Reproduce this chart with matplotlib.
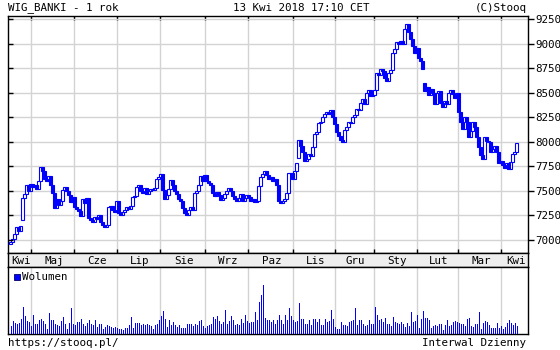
import numpy as np
import matplotlib
matplotlib.use("Agg")
import matplotlib.pyplot as plt
from matplotlib.patches import Rectangle

# daily closes, WIG_BANKI, Apr 2017 - Apr 2018
closes = [
    6975, 7010, 7060, 7130, 7090, 7140, 7430, 7470, 7560, 7500,
    7570, 7540, 7560, 7520, 7600, 7740, 7700, 7620, 7600, 7650,
    7560, 7480, 7330, 7420, 7360, 7400, 7510, 7540, 7500, 7460,
    7390, 7440, 7340, 7320, 7300, 7240, 7420, 7380, 7430, 7220,
    7200, 7180, 7230, 7210, 7250, 7180, 7150, 7130, 7150, 7340,
    7350, 7310, 7290, 7400, 7280, 7260, 7290, 7310, 7340, 7320,
    7350, 7440, 7450, 7540, 7560, 7500, 7480, 7530, 7470, 7500,
    7520, 7510, 7530, 7620, 7640, 7670, 7510, 7420, 7460, 7520,
    7610, 7560, 7500, 7470, 7420, 7400, 7330, 7280, 7260, 7310,
    7340, 7310, 7480, 7500, 7560, 7650, 7600, 7660, 7600, 7580,
    7560, 7480, 7450, 7490, 7460, 7410, 7430, 7470, 7500, 7530,
    7500, 7450, 7420, 7400, 7430, 7470, 7400, 7430, 7460, 7440,
    7400, 7420, 7390, 7400, 7550, 7640, 7670, 7700, 7660, 7620,
    7640, 7600, 7620, 7560, 7400, 7380, 7400, 7420, 7480, 7680,
    7680, 7620, 7700, 7780, 8020, 7960, 7900, 7800, 7830, 7880,
    7860, 7950, 8080, 8100, 8190, 8200, 8250, 8280, 8300, 8280,
    8320, 8250, 8180, 8100, 8060, 8020, 8000, 8120, 8150, 8200,
    8190, 8250, 8270, 8330, 8320, 8400, 8440, 8390, 8500, 8530,
    8470, 8480, 8530, 8700, 8680, 8740, 8720, 8650, 8620, 8700,
    8730, 8900, 8950, 9020, 9000, 9030, 9000, 9150, 9200, 9120,
    9050, 8980, 8900, 8960, 8850, 8820, 8740, 8520, 8560, 8480,
    8540, 8500, 8380, 8500, 8520, 8400, 8350, 8420, 8380, 8500,
    8530, 8490, 8450, 8500, 8300, 8200, 8130, 8250, 8200, 8050,
    8110, 8200, 8150, 8050, 7950, 7870, 7830, 8050, 8010, 8000,
    7900, 7930, 7960, 7900, 7780, 7800, 7760, 7730, 7780, 7720,
    7790, 7880, 7900, 7990,
]
first_open = 6960
# openings that gapped away from the previous close
gap_opens = {6: 7200, 139: 7480, 144: 7840, 207: 8600}

# daily volume (relative units, no scale on the chart)
volume = [
    7.7, 12.7, 11.0, 10.3, 11.0, 15.3, 27.0, 17.7, 12.7, 11.7,
    7.7, 18.7, 9.7, 9.7, 14.3, 15.3, 12.7, 9.7, 5.0, 21.0,
    13.7, 13.7, 10.3, 9.0, 8.3, 13.0, 17.0, 9.7, 5.0, 11.0,
    25.7, 10.3, 8.7, 11.7, 11.7, 15.3, 9.7, 8.3, 11.0, 13.7,
    10.3, 8.7, 13.7, 7.0, 10.3, 10.3, 5.3, 7.0, 8.7, 7.7,
    7.0, 6.3, 7.0, 6.3, 5.0, 5.0, 3.7, 5.7, 5.7, 8.7,
    17.0, 6.3, 11.0, 11.0, 11.0, 8.7, 9.7, 9.0, 9.7, 8.7,
    7.7, 5.3, 8.7, 10.3, 13.7, 18.3, 22.7, 15.3, 7.0, 14.3,
    8.7, 12.0, 8.7, 7.0, 8.7, 6.3, 6.3, 6.3, 9.7, 10.3,
    9.7, 7.7, 9.7, 8.7, 13.0, 14.3, 7.7, 6.3, 7.7, 8.7,
    9.7, 17.0, 15.3, 18.0, 13.0, 9.7, 12.0, 24.3, 9.7, 13.0,
    17.7, 14.3, 8.7, 9.7, 8.7, 15.3, 11.0, 18.7, 13.0, 11.0,
    12.3, 11.7, 22.3, 13.7, 32.0, 38.7, 48.7, 16.0, 14.3, 14.3,
    12.0, 14.3, 9.7, 14.3,
    18.7, 14.3, 9.7, 18.7, 14.3, 26.3, 17.7, 13.7, 12.0, 13.0,
    31.0, 15.3, 15.3, 9.7, 9.7, 14.3, 8.7, 15.3, 15.3, 12.0,
    15.0, 8.7, 8.7, 15.0, 12.0, 13.0, 24.3, 15.3, 7.0, 5.3,
    5.0, 11.7, 8.7, 8.7, 7.7, 12.0, 12.7, 14.3, 26.3, 8.7,
    14.3, 14.3, 9.7, 7.7, 8.7, 13.7, 9.7, 10.3, 27.0, 18.7,
    13.7, 15.3, 12.0, 16.3, 9.7, 10.3, 8.3, 17.0, 12.0, 11.0,
    9.7, 12.0, 9.7, 7.0, 11.0, 7.7, 21.7, 12.0, 13.0, 18.7,
    6.3, 15.3, 22.7, 16.3, 16.3, 13.7, 6.3, 7.7, 8.7, 7.7,
    9.7, 10.3, 3.7, 9.0, 13.7, 8.3, 8.7, 12.3, 13.0, 11.7,
    11.0, 9.7, 10.3, 8.3, 14.7, 16.3, 8.3, 7.0, 10.3, 9.7,
    21.7, 5.0, 11.0, 13.0, 12.3, 8.7, 6.3, 6.3, 6.3, 11.0,
    6.3, 7.7, 5.0, 7.0, 11.0, 13.7, 11.0, 8.7, 11.0, 7.7,
]

# month boundaries in trading-day positions, and labels
month_starts = [10.35, 31.5, 53.15, 74.65, 97, 118.65, 141.15, 162,
                181.65, 203.15, 223.65, 245.35]
month_names = ["Kwi", "Maj", "Cze", "Lip", "Sie", "Wrz", "Paz", "Lis",
               "Gru", "Sty", "Lut", "Mar", "Kwi"]
price_ticks = [7000, 7250, 7500, 7750, 8000, 8250, 8500, 8750, 9000, 9250]

BLUE = "#0000ff"
GRID = "#d3d3d3"
FONT = "DejaVu Sans Mono"
FS = 7.8
W, H = 560, 350

n = len(closes)
closes = np.array(closes, dtype=float)
opens = np.concatenate([[first_open], closes[:-1]])
for k, v in gap_opens.items():
    opens[k] = v
idx = np.arange(n)
xlim = (-1.25, 258.75)


def box(left, top, right, bottom):
    return [left / W, 1 - bottom / H, (right - left) / W, (bottom - top) / H]


fig = plt.figure(figsize=(W / 100, H / 100), dpi=100)

# price panel
ax = fig.add_axes(box(8, 15.7, 528, 253.3))
body = closes - opens
body = np.where(np.abs(body) < 4, np.where(body < 0, -4, 4), body)
up = closes >= opens
ax.bar(idx[up], body[up], bottom=opens[up], width=1.2, facecolor="white",
       edgecolor=BLUE, linewidth=0.8, zorder=3)
ax.bar(idx[~up], body[~up], bottom=opens[~up], width=1.2, facecolor=BLUE,
       edgecolor=BLUE, linewidth=0.8, zorder=3)
ax.set_xlim(*xlim)
ax.set_ylim(6865, 9284)
ax.set_xticks(month_starts)
ax.set_yticks(price_ticks)
ax.grid(True, color=GRID, linewidth=1)
ax.set_axisbelow(True)
ax.tick_params(axis="x", direction="in", top=True, bottom=True, length=3,
               labelbottom=False, width=1)
ax.tick_params(axis="y", direction="out", left=False, right=True,
               labelleft=False, labelright=True, length=4, width=1, pad=1)
for lab in ax.get_yticklabels():
    lab.set_fontfamily(FONT)
    lab.set_fontsize(FS)
# short inner ticks on the left edge
ax.hlines(price_ticks, 0, 5 / 520, transform=ax.get_yaxis_transform(),
          color="black", linewidth=1, zorder=4)

# month band
band = fig.add_axes(box(8, 253.3, 528, 266.7), facecolor="#eeeeee")
band.set_xlim(*xlim)
band.set_ylim(0, 1)
band.set_xticks([])
band.set_yticks([])
edges = [xlim[0]] + month_starts + [xlim[1]]
for name, a, b in zip(month_names, edges[:-1], edges[1:]):
    band.text((a + b) / 2 + 0.8, 0.45, name, ha="center", va="center",
              fontfamily=FONT, fontsize=FS)

# volume panel
vol = fig.add_axes(box(8, 266.7, 528, 334))
vol.vlines(idx, 0, volume, color=BLUE, linewidth=0.72, antialiased=False,
           zorder=3)
vol.set_xlim(*xlim)
vol.set_ylim(0, 67)
vol.set_xticks(month_starts)
vol.set_yticks([])
vol.grid(True, axis="x", color=GRID, linewidth=1)
vol.set_axisbelow(True)
vol.tick_params(axis="x", length=0, labelbottom=False)

for a in (ax, band, vol):
    for s in a.spines.values():
        s.set_linewidth(1)
        s.set_color("black")

fig.add_artist(Rectangle((14 / W, 1 - 279.5 / H), 6 / W, 6 / H,
                         transform=fig.transFigure, facecolor=BLUE,
                         edgecolor="#000066", linewidth=0.6))
fig.text(22.5 / W, 1 - 276.5 / H, "Wolumen", ha="left", va="center",
         fontfamily=FONT, fontsize=FS)

fig.text(8 / W, 1 - 8 / H, "WIG_BANKI - 1 rok", ha="left", va="center",
         fontfamily=FONT, fontsize=FS)
fig.text(301 / W, 1 - 8 / H, "13 Kwi 2018 17:10 CET", ha="center",
         va="center", fontfamily=FONT, fontsize=FS)
fig.text(527 / W, 1 - 8 / H, "(C)Stooq", ha="right", va="center",
         fontfamily=FONT, fontsize=FS)
fig.text(8 / W, 1 - 343 / H, "https://stooq.pl/", ha="left", va="center",
         fontfamily=FONT, fontsize=FS)
fig.text(526 / W, 1 - 343 / H, "Interwal Dzienny", ha="right", va="center",
         fontfamily=FONT, fontsize=FS)

fig.savefig("out.png", dpi=100)
